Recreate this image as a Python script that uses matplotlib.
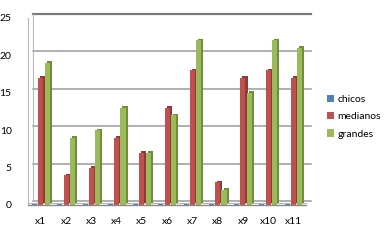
import numpy as np
import matplotlib.pyplot as plt
import matplotlib.transforms as mtrans

# Daten
kategorien = ['x1', 'x2', 'x3', 'x4', 'x5', 'x6', 'x7', 'x8', 'x9', 'x10', 'x11']
chicos = [0, 0, 0, 0, 0, 0, 0, 0, 0, 0, 0]
medianos = [17, 4, 5, 9, 7, 13, 18, 3, 17, 18, 17]
grandes = [19, 9, 10, 13, 7, 12, 22, 2, 15, 22, 21]
serien = ['chicos', 'medianos', 'grandes']
y_ticks = [0, 5, 10, 15, 20, 25]

farben = ['#4F81BD', '#C0504D', '#9BBB59']
seiten = ['#7f9fc8', '#8e3a37', '#718c3f']

plt.rcParams['font.family'] = ['Lato', 'DejaVu Sans']

fig = plt.figure(figsize=(3.87, 2.46), dpi=100)
ax = fig.add_axes([0.073, 0.167, 0.718, 0.76])

x = np.arange(1, len(kategorien) + 1)
breite = 0.2
dx, dy = 0.08, 0.2   # "3D"-Tiefe in Dateneinheiten

# Rückwand: Gitterlinien leicht nach rechts oben versetzt
wand = mtrans.offset_copy(ax.transData, fig=fig, x=5, y=4, units='dots')
for t in y_ticks:
    farbe = '#7a7a7a' if t == y_ticks[-1] else '#9a9a9a'
    lw = 1.6 if t == y_ticks[-1] else 1.1
    ax.plot([0.5, 11.5], [t, t], color=farbe, lw=lw, transform=wand, zorder=1, clip_on=False)
ax.plot([0.5, 0.5], [0, 25], color='#b8b8b8', lw=0.8, transform=wand, zorder=1, clip_on=False)

for i, (werte, name) in enumerate(zip([chicos, medianos, grandes], serien)):
    pos = x + (i - 1) * 0.25
    h = np.array(werte, dtype=float)
    if h.max() > 0:
        # Seite + Deckel
        ax.bar(pos + dx, h, width=breite, bottom=dy, color=seiten[i], zorder=2)
    # Front
    ax.bar(pos, np.maximum(h, 0.15), width=breite, color=farben[i], zorder=3, label=name)

# Boden
ax.plot([0.5, 11.5], [0, 0], color='#8a8a8a', lw=1.0, zorder=4, clip_on=False)
ax.plot([0.5, 11.5], [0.3, 0.3], color='#b8b8b8', lw=0.8, zorder=1, clip_on=False)

ax.set_xlim(0.5, 11.5)
ax.set_ylim(0, 25)
ax.set_yticks(y_ticks)
ax.set_xticks(x)
ax.set_xticklabels(kategorien)
ax.tick_params(axis='both', labelsize=7.5, length=0, colors='#000000')
ax.tick_params(axis='x', pad=9)
ax.tick_params(axis='y', pad=12)
for s in ['top', 'right', 'bottom']:
    ax.spines[s].set_visible(False)
ax.spines['left'].set_color('#b8b8b8')
ax.spines['left'].set_linewidth(0.8)

fig.legend(loc='center left', bbox_to_anchor=(0.82, 0.525), frameon=False,
           fontsize=7.5, handlelength=0.7, handleheight=0.7, handletextpad=0.3,
           labelspacing=0.75)

fig.savefig('out.png', dpi=100)
